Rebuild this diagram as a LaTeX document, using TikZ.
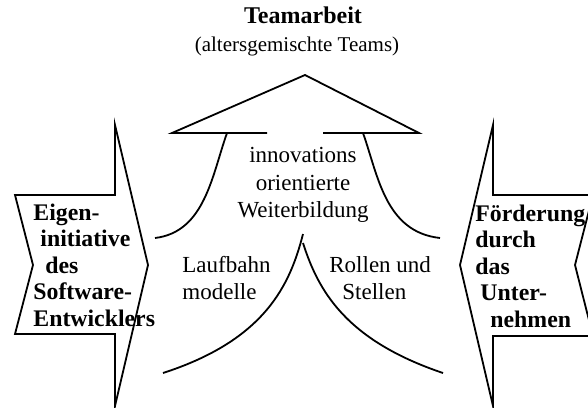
\documentclass[tikz,border=0pt]{standalone}
\usepackage{fontspec}
\setmainfont{Liberation Serif}

\begin{document}
\begin{tikzpicture}[x=0.5pt, y=-0.5pt,
    outline/.style={draw=black, line width=0.9pt, line join=miter},
    plaintxt/.style={inner sep=0pt, font=\fontsize{11.5}{13.75}\selectfont},
    boldtxt/.style={inner sep=0pt, anchor=west, align=left, font=\fontsize{11.9}{13.25}\selectfont\bfseries}]

    \useasboundingbox (0,0) rectangle (588,407);

    % Pfeil nach oben
    \draw[outline] (267,133) -- (172,133) -- (305,75) -- (419,133) -- (323,133);
    \draw[outline] (227,133) .. controls (212,175) and (205,232) .. (155,238);
    \draw[outline] (363,133) .. controls (378,175) and (385,232) .. (440,238);
    \draw[outline] (303,234) .. controls (290,285) and (265,340) .. (163,373);
    \draw[outline] (303,243) .. controls (318,290) and (345,340) .. (443,373);

    % Pfeil links
    \draw[outline] (115,125) -- (148,265) -- (115,406) -- (115,334) -- (15,334) -- (33,265) -- (15,195) -- (115,195) -- cycle;

    % Pfeil rechts
    \draw[outline] (493,125) -- (460,265) -- (493,406) -- (493,336) -- (593,336) -- (575,265) -- (593,195) -- (493,195) -- cycle;

    \node[inner sep=0pt, font=\fontsize{12}{14}\selectfont\bfseries] (ndTeam) at (303,15) {Teamarbeit};
    \node[inner sep=0pt, font=\fontsize{10.5}{12.5}\selectfont] (ndTeamSub) at (297,46) {(altersgemischte Teams)};

    \node[plaintxt, align=center] (ndWeiter) at (303,185) {innovations\\orientierte\\Weiterbildung};
    \node[plaintxt, align=left, anchor=west] (ndLauf) at (182,278) {Laufbahn\\modelle};
    \node[plaintxt, align=left, anchor=west] (ndRollen) at (329,278) {Rollen und\\\hspace*{6.5pt}Stellen};

    \node[boldtxt] (ndEigen) at (33,265) {Eigen-\\\hspace*{3.5pt}initiative\\\hspace*{6pt}des\\Software-\\Entwicklers};
    \node[boldtxt] (ndFoerd) at (475,266) {Förderung\\durch\\das\\\hspace*{2.5pt}Unter-\\\hspace*{7.5pt}nehmen};
\end{tikzpicture}
\end{document}
